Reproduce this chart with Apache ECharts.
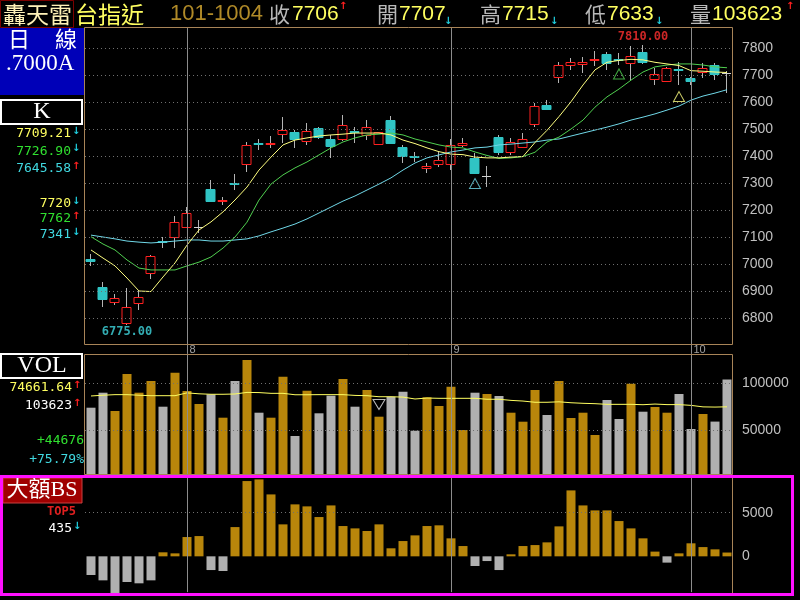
<!DOCTYPE html>
<html><head><meta charset="utf-8">
<script src="https://cdn.jsdelivr.net/npm/echarts@6/dist/echarts.min.js"></script>
<style>html,body{margin:0;padding:0;background:#000}#c{width:800px;height:600px}</style>
</head><body><div id="c"></div>
<script>
// ---------------- DATA ----------------
const dates = ['2012/07/20','2012/07/23','2012/07/24','2012/07/25','2012/07/26','2012/07/27','2012/07/30','2012/07/31',
'2012/08/01','2012/08/03','2012/08/06','2012/08/07','2012/08/08','2012/08/09','2012/08/10','2012/08/13','2012/08/14','2012/08/15','2012/08/16','2012/08/17','2012/08/20','2012/08/21','2012/08/22','2012/08/23','2012/08/24','2012/08/27','2012/08/28','2012/08/29','2012/08/30','2012/08/31',
'2012/09/03','2012/09/04','2012/09/05','2012/09/06','2012/09/07','2012/09/10','2012/09/11','2012/09/12','2012/09/13','2012/09/14','2012/09/17','2012/09/18','2012/09/19','2012/09/20','2012/09/21','2012/09/24','2012/09/25','2012/09/26','2012/09/27','2012/09/28',
'2012/10/01','2012/10/02','2012/10/03','2012/10/04'];
const open  = [7018,6916,6859,6780,6855,6968,7086,7099,7138,7138,7277,7232,7301,7370,7449,7445,7480,7490,7457,7503,7462,7462,7492,7478,7444,7533,7432,7399,7357,7370,7370,7442,7394,7326,7472,7414,7434,7519,7589,7694,7737,7742,7755,7778,7760,7743,7786,7685,7679,7721,7688,7710,7737,7707];
const close = [7012,6869,6875,6842,6877,7030,7080,7154,7190,7138,7234,7236,7297,7441,7445,7450,7496,7462,7494,7471,7437,7515,7488,7509,7488,7449,7401,7396,7363,7385,7441,7447,7338,7326,7416,7453,7462,7585,7573,7737,7749,7748,7760,7746,7756,7770,7749,7703,7725,7717,7679,7725,7704,7706];
const low   = [6993,6842,6848,6775,6830,6945,7058,7058,7135,7116,7234,7219,7274,7342,7422,7429,7447,7429,7441,7462,7391,7455,7449,7459,7441,7449,7373,7379,7338,7360,7348,7434,7338,7284,7404,7404,7429,7506,7570,7669,7719,7706,7733,7719,7737,7681,7741,7663,7675,7663,7663,7688,7681,7633];
const high  = [7037,6934,6889,6910,6900,7032,7101,7178,7212,7163,7311,7249,7332,7453,7462,7474,7546,7496,7521,7509,7478,7552,7506,7533,7490,7548,7441,7416,7373,7416,7462,7466,7410,7363,7478,7466,7486,7595,7607,7749,7762,7768,7790,7786,7783,7806,7810,7725,7728,7749,7694,7743,7743,7715];
const ma5  = [7052,7022,6993,6948,6900,6898,6952,7004,7070,7126,7156,7193,7237,7285,7348,7396,7441,7459,7467,7474,7478,7481,7485,7485,7485,7478,7459,7446,7430,7416,7407,7405,7396,7393,7393,7396,7398,7450,7495,7546,7601,7663,7719,7747,7754,7758,7756,7747,7741,7735,7716,7714,7711,7709.21];
const ma10 = [7101,7074,7052,7015,6985,6978,6978,6978,6993,7007,7026,7059,7100,7155,7237,7296,7330,7356,7378,7404,7430,7452,7467,7478,7481,7485,7478,7463,7452,7441,7433,7430,7415,7402,7391,7393,7398,7414,7452,7470,7500,7533,7581,7619,7648,7681,7711,7730,7737,7741,7741,7737,7730,7726.90];
const ma20 = [7107,7100,7093,7085,7081,7078,7081,7085,7089,7089,7085,7085,7089,7093,7104,7119,7133,7148,7167,7189,7211,7233,7252,7274,7296,7319,7348,7374,7393,7404,7415,7422,7430,7433,7441,7444,7448,7452,7459,7463,7474,7485,7496,7507,7519,7533,7544,7556,7570,7585,7607,7622,7633,7645.58];
const volume = [73720,89680,70210,109570,89680,102130,74790,110960,91490,77660,87970,63090,102130,124470,68400,63090,106700,43620,91810,67760,86490,104250,74790,92550,64150,85430,90740,49250,84790,75530,96060,50000,89680,88300,86170,68400,58830,92550,65960,102130,62770,68400,44680,81910,61700,99250,69470,74470,68400,88300,51060,67020,58947,103623];
const volUp = [0,0,1,1,1,1,0,1,1,1, 0,1,0,1,0,1,1,0,1,0, 0,1,0,1,1,0,0,0,1,1, 1,1,0,1,0,1,1,1,0,1, 1,1,1,0,0,1,0,1,1,0, 0,1,0,0];
const volMa = [86200,87000,87600,87600,87000,86500,86500,86500,89500,88500,88000,88000,88300,90000,89800,89000,89000,87500,87500,87600,87600,87600,86800,86500,85400,85400,85000,83000,84000,83700,83700,83700,83700,82700,82700,81500,80800,79500,79500,80000,79000,78400,78000,77300,77300,77300,76900,77600,77000,77000,76200,74600,74400,74661.64];
const bigBS = [-2140,-2750,-4400,-2940,-3090,-2750,460,340,2210,2320,-1570,-1680,3350,8620,8810,7090,3660,5950,5720,4500,5830,3470,3200,2900,3660,920,1750,2400,3470,3550,2060,1180,-1110,-540,-1570,230,1180,1290,1600,3430,7550,5830,5260,5260,4040,3200,2060,540,-720,340,1490,1060,800,435];
const priceTicks = [6800,6900,7000,7100,7200,7300,7400,7500,7600,7700,7800];
const volTicks = [50000,100000];
const bsTicks = [0,5000];
const signalIdx = [32,44,49];
const signalPrice = [7298,7704,7620];
const signalLine = ['ma20','ma10','ma5'];
const volSignalIdx = [24];
const volSignalVal = [77100];

// ---------------- STYLE ----------------
const RED='#ff2020', CYAN='#30c4c4', WICK='#b4b4b4', GOLD='#b8860b', GREY='#b0b0b0';
const LINECOL = {ma5:'#ffff80', ma10:'#50d050', ma20:'#70d8e8'};
const CJK='"Noto Sans CJK TC", sans-serif';
const SANS='"Liberation Sans", Arial, sans-serif';
const SERIF='"Liberation Serif", "Noto Sans CJK TC", serif';
const MONO='"DejaVu Sans Mono", monospace';
const BORDER='#a88458';

const monthStarts = [];
for (let i=1;i<dates.length;i++) if (dates[i].slice(5,7)!==dates[i-1].slice(5,7)) monthStarts.push(i);

let hiIdx=0, loIdx=0;
high.forEach((v,i)=>{ if(v>high[hiIdx]) hiIdx=i; });
low.forEach((v,i)=>{ if(v<low[loIdx]) loIdx=i; });

function renderCandle(params, api){
  const i=api.value(0), o=api.value(1), c=api.value(2), l=api.value(3), h=api.value(4);
  const po=api.coord([i,o]), pc=api.coord([i,c]), pl=api.coord([i,l]), ph=api.coord([i,h]);
  const cx=Math.round(po[0])-0.5;
  const ch=[];
  ch.push({type:'line',shape:{x1:cx,y1:Math.round(ph[1]),x2:cx,y2:Math.round(pl[1])},style:{stroke:WICK,lineWidth:1}});
  const top=Math.round(Math.min(po[1],pc[1]))+0.5;
  let bot=Math.round(Math.max(po[1],pc[1]))+0.5;
  if (Math.abs(c-o)<=1){
    ch.push({type:'line',shape:{x1:cx-4.5,y1:top,x2:cx+4.5,y2:top},style:{stroke:'#d0d0d0',lineWidth:1}});
  } else {
    if (bot-top<1) bot=top+1;
    const up=c>o;
    ch.push({type:'rect',shape:{x:cx-4.5,y:top,width:9,height:bot-top},
      style:{fill: up?'#000':CYAN, stroke: up?RED:CYAN, lineWidth:1}});
  }
  return {type:'group',children:ch};
}

function txt(text,x,y,fill,font,align){
  return {type:'text',z:20,silent:true,style:{text:text,x:x,y:y,fill:fill,font:font,
    textAlign:align||'left',textVerticalAlign:'middle',align:align||'left',verticalAlign:'middle'}};
}
function arrow(up,x,y){
  return txt(up?'↑':'↓',x,y,up?'#ff2020':'#20d0e0','bold 10px "DejaVu Sans"','left');
}

const graphics = [
  // header
  {type:'rect',z:20,silent:true,shape:{x:0.5,y:0.5,width:73,height:27},style:{fill:'none',stroke:'#7a0000',lineWidth:1}},
  txt('轟天雷',3,14,'#fff2b8','23px '+CJK),
  txt('台指近',75,14,'#ffff60','23px '+CJK),
  txt('101-1004',170,14,'#b08a28','22px '+SANS),
  txt('收',269,14,'#b8b8b8','21px '+CJK),
  txt('7706',292,14,'#ffff60','21px '+SANS), arrow(true,339,6),
  txt('開',377,14,'#b8b8b8','21px '+CJK),
  txt('7707',399,14,'#ffff60','21px '+SANS), arrow(false,444,21),
  txt('高',480,14,'#b8b8b8','21px '+CJK),
  txt('7715',502,14,'#ffff60','21px '+SANS), arrow(false,550,21),
  txt('低',585,14,'#b8b8b8','21px '+CJK),
  txt('7633',607,14,'#ffff60','21px '+SANS), arrow(false,655,21),
  txt('量',690,14,'#b8b8b8','21px '+CJK),
  txt('103623',712,14,'#ffff60','21px '+SANS), arrow(true,786,6),
  // left panel
  {type:'rect',z:20,silent:true,shape:{x:0,y:28,width:84,height:67},style:{fill:'#0000b8'}},
  txt('日',8,39,'#ffffff','22px '+CJK),
  txt('線',55,39,'#ffffff','22px '+CJK),
  txt('.7000A',6,64,'#ffffff','23px '+SERIF),
  {type:'rect',z:20,silent:true,shape:{x:1,y:100,width:81,height:24},style:{fill:'#000',stroke:'#ffffff',lineWidth:2}},
  txt('K',42,112,'#ffffff','24px '+SERIF,'center'),
  txt('7709.21',71,134,'#ffff60','13px '+MONO,'right'), arrow(false,72,131),
  txt('7726.90',71,151.5,'#30e030','13px '+MONO,'right'), arrow(false,72,148),
  txt('7645.58',71,169,'#40d8e0','13px '+MONO,'right'), arrow(true,72,166),
  txt('7720',71,204,'#ffff60','13px '+MONO,'right'), arrow(false,72,201),
  txt('7762',71,219,'#30e030','13px '+MONO,'right'), arrow(true,72,216),
  txt('7341',71,235,'#40d8e0','13px '+MONO,'right'), arrow(false,72,232),
  // VOL panel
  {type:'rect',z:20,silent:true,shape:{x:1,y:354,width:81,height:24},style:{fill:'#000',stroke:'#ffffff',lineWidth:2}},
  txt('VOL',42,366,'#ffffff','24px '+SERIF,'center'),
  txt('74661.64',72,388,'#ffff60','13px '+MONO,'right'), arrow(true,73,385),
  txt('103623',72,406,'#ffffff','13px '+MONO,'right'), arrow(true,73,403),
  txt('+44676',84,441,'#30e030','13px '+MONO,'right'),
  txt('+75.79%',84,460,'#40d8e0','13px '+MONO,'right'),
  // BS panel
  {type:'rect',z:20,silent:true,shape:{x:3,y:478,width:79,height:25},style:{fill:'#a00000',stroke:'#c84040',lineWidth:1}},
  txt('大額BS',42,490.5,'#ffffff','22px '+SERIF,'center'),
  txt('TOP5',76,512,'#e02020','bold 12px '+MONO,'right'),
  txt('435',72,529,'#ffffff','13px '+MONO,'right'), arrow(false,73,526),
  // borders
  {type:'rect',z:15,silent:true,shape:{x:84.5,y:27.5,width:648,height:317},style:{fill:'none',stroke:BORDER,lineWidth:1}},
  {type:'rect',z:15,silent:true,shape:{x:84.5,y:354.5,width:648,height:120},style:{fill:'none',stroke:BORDER,lineWidth:1}},
  {type:'line',z:15,silent:true,shape:{x1:732.5,y1:478,x2:732.5,y2:594},style:{stroke:BORDER,lineWidth:1}},
  {type:'rect',z:25,silent:true,shape:{x:1.5,y:476.5,width:791,height:118},style:{fill:'none',stroke:'#ff10ff',lineWidth:3}}
];

const nulls = dates.map(()=>null);
const vLine = (idx,a,b)=>[{coord:[dates[idx],a],lineStyle:{type:'solid',color:'#8c8c8c',width:1}},{coord:[dates[idx],b]}];
const dotted = {type:[1,3],color:'#707070',width:1};
const monoLabel = {fontFamily:'DejaVu Sans Mono',fontWeight:'bold',fontSize:12};

const option = {
  backgroundColor:'#000',
  animation:false,
  graphic: graphics,
  grid:[
    {left:85,width:648,top:21,height:351},
    {left:85,width:648,top:336,height:141},
    {left:85,width:648,top:469,height:131}
  ],
  xAxis:[0,1,2].map(g=>({type:'category',gridIndex:g,data:dates,boundaryGap:true,show:false})),
  yAxis:[
    {gridIndex:0,type:'value',position:'right',min:6600,max:7900,interval:100,
     axisLine:{show:false},axisTick:{show:false},splitLine:{show:false},
     axisLabel:{color:'#c0c0c0',fontSize:14,fontFamily:'Liberation Sans',margin:9,
       formatter:v=>priceTicks.indexOf(v)>=0?String(v):''}},
    {gridIndex:1,type:'value',position:'right',min:0,max:150000,interval:50000,
     axisLine:{show:false},axisTick:{show:false},splitLine:{show:false},
     axisLabel:{color:'#c0c0c0',fontSize:14,fontFamily:'Liberation Sans',margin:9,
       formatter:v=>volTicks.indexOf(v)>=0?String(v):''}},
    {gridIndex:2,type:'value',position:'right',min:-5000,max:10000,interval:5000,
     axisLine:{show:false},axisTick:{show:false},splitLine:{show:false},
     axisLabel:{color:'#c0c0c0',fontSize:14,fontFamily:'Liberation Sans',margin:9,
       formatter:v=>bsTicks.indexOf(v)>=0?String(v):''}}
  ],
  series:[
    // price grid lines
    {type:'line',xAxisIndex:0,yAxisIndex:0,data:nulls,z:1,silent:true,
     markLine:{silent:true,symbol:['none','none'],label:{show:false},animation:false,
       data: priceTicks.map(v=>({yAxis:v,lineStyle:dotted}))
         .concat(monthStarts.map(i=>vLine(i,6667,7874)))}},
    {type:'custom',xAxisIndex:0,yAxisIndex:0,z:2,renderItem:renderCandle,
     encode:{x:0,y:[1,2,3,4]},
     data:dates.map((d,i)=>[i,open[i],close[i],low[i],high[i]])},
    {type:'line',name:'MA20',xAxisIndex:0,yAxisIndex:0,z:3,data:ma20,symbol:'none',lineStyle:{color:LINECOL.ma20,width:1}},
    {type:'line',name:'MA10',xAxisIndex:0,yAxisIndex:0,z:3,data:ma10,symbol:'none',lineStyle:{color:LINECOL.ma10,width:1}},
    {type:'line',name:'MA5',xAxisIndex:0,yAxisIndex:0,z:3,data:ma5,symbol:'none',lineStyle:{color:LINECOL.ma5,width:1}},
    // signals
    {type:'scatter',xAxisIndex:0,yAxisIndex:0,z:4,symbol:'triangle',symbolSize:[11,10],
     data:signalIdx.map((idx,k)=>({value:[dates[idx],signalPrice[k]],
       itemStyle:{color:'rgba(0,0,0,0)',borderColor:LINECOL[signalLine[k]],borderWidth:1}}))},
    // hi / lo / month labels
    {type:'scatter',xAxisIndex:0,yAxisIndex:0,z:4,symbolSize:1,itemStyle:{color:'rgba(0,0,0,0)'},
     data:[
       {value:[dates[hiIdx],high[hiIdx]],label:Object.assign({show:true,position:'top',distance:2,formatter:high[hiIdx].toFixed(2),color:'#ff3030'},monoLabel)},
       {value:[dates[loIdx],low[loIdx]],label:Object.assign({show:true,position:'bottom',distance:1,formatter:low[loIdx].toFixed(2),color:'#40d8e0'},monoLabel)}
     ].concat(monthStarts.map(i=>({value:[dates[i],6681],
       label:{show:true,position:'right',distance:2,formatter:String(+dates[i].slice(5,7)),color:'#c8c8c8',fontSize:11,fontFamily:'Liberation Sans'}})))},
    // volume
    {type:'line',xAxisIndex:1,yAxisIndex:1,data:nulls,z:1,silent:true,
     markLine:{silent:true,symbol:['none','none'],label:{show:false},animation:false,
       data: volTicks.map(v=>({yAxis:v,lineStyle:dotted}))
         .concat(monthStarts.map(i=>vLine(i,2500,130000)))}},
    {type:'bar',xAxisIndex:1,yAxisIndex:1,z:2,barWidth:9,
     data:volume.map((v,i)=>({value:v,itemStyle:{color:volUp[i]?GOLD:GREY}}))},
    {type:'line',xAxisIndex:1,yAxisIndex:1,z:3,data:volMa,symbol:'none',lineStyle:{color:'#ffff60',width:1}},
    {type:'scatter',xAxisIndex:1,yAxisIndex:1,z:4,symbol:'triangle',symbolRotate:180,symbolSize:[12,10],
     data:volSignalIdx.map((idx,k)=>({value:[dates[idx],volSignalVal[k]],
       itemStyle:{color:'rgba(0,0,0,0)',borderColor:'#e8e8e8',borderWidth:1}}))},
    // big BS
    {type:'line',xAxisIndex:2,yAxisIndex:2,data:nulls,z:1,silent:true,
     markLine:{silent:true,symbol:['none','none'],label:{show:false},animation:false,
       data: [{yAxis:5000,lineStyle:dotted}]
         .concat(monthStarts.map(i=>vLine(i,-4100,9000)))}},
    {type:'bar',xAxisIndex:2,yAxisIndex:2,z:2,barWidth:9,
     data:bigBS.map(v=>({value:v,itemStyle:{color:v>=0?GOLD:GREY}}))}
  ]
};
const chart = echarts.init(document.getElementById('c'),null,{renderer:'canvas'});
chart.setOption(option);
</script></body></html>
